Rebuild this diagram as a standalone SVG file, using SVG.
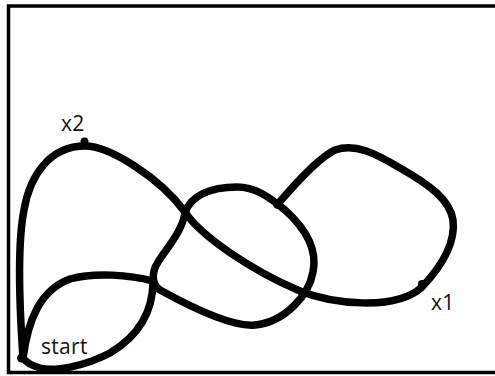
<svg xmlns="http://www.w3.org/2000/svg" width="495" height="376" viewBox="0 0 495 376">
<style>
.frame{fill:none;stroke:#000;stroke-width:3.5}
.curve{fill:none;stroke:#000;stroke-width:7.5;stroke-linecap:round;stroke-linejoin:round}
.dot{fill:#000}
.lbl{font-family:"Open Sans","Liberation Sans",sans-serif;font-size:21px;fill:#111118;letter-spacing:0.3px}
</style>
<rect width="495" height="376" fill="#fff"/>
<rect class="frame" x="8.5" y="6" width="492" height="366.5"/>
<g id="connectors">
<path id="main" class="curve" d="M23,358 C19,300 18,240 24,210 C30,175 50,146 85,146 C110,146 160,178 185,212 C200,235 250,270 300,291 C330,303 395,312 422,287 C440,268 456,245 453,220 C450,200 430,185 400,168 C375,153 355,143 335,150 C320,157 300,178 277,205"/>
<path id="blob" class="curve" d="M185,213 C190,196 210,187 237,187 C255,187 268,196 285,210 C305,228 318,248 313,272 C309,295 285,322 255,325 C235,327 200,312 160,290 C152,285 151,273 158,262 C166,249 182,232 185,213 Z"/>
<path id="bottom-loop" class="curve" d="M23,358 C28,320 40,290 70,279 C95,272 130,275 153,281 C153,310 140,335 110,353 C85,366 55,372 40,368 C30,365 25,361 23,358 Z"/>
</g>
<g id="start">
<circle class="dot" cx="21.5" cy="358" r="4.5"/>
<text class="lbl" x="41" y="354">start</text>
</g>
<g id="x2">
<circle class="dot" cx="84.5" cy="141.5" r="4"/>
<text class="lbl" x="61" y="131">x2</text>
</g>
<g id="x1">
<circle class="dot" cx="422" cy="284" r="4"/>
<text class="lbl" x="431" y="310">x1</text>
</g>
</svg>
